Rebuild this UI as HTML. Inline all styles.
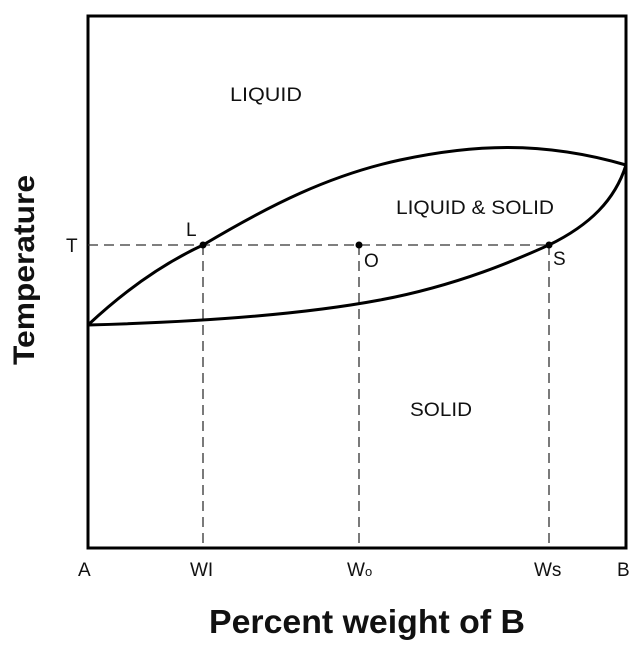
<!DOCTYPE html>
<html><head><style>
html,body{margin:0;padding:0;background:#fff;}
svg{display:block;}
text{font-family:"Liberation Sans",sans-serif;fill:#111;}
</style></head><body>
<svg width="640" height="652" viewBox="0 0 640 652" xmlns="http://www.w3.org/2000/svg">
<rect x="88" y="16" width="538" height="532" fill="none" stroke="#000" stroke-width="3"/>
<g stroke="#333" stroke-width="1.3" stroke-dasharray="10,6" fill="none">
<line x1="88" y1="245" x2="549" y2="245"/>
<line x1="203" y1="245" x2="203" y2="548"/>
<line x1="359" y1="245" x2="359" y2="548"/>
<line x1="549" y1="245" x2="549" y2="548"/>
</g>
<path d="M88,325 C120,295 160,265 203,245 C270,205 330,175 400,160 C470,145 540,140 626,165" fill="none" stroke="#000" stroke-width="3"/>
<path d="M88,325 C200,322 300,315 380,300 C460,285 520,258 549,245 C590,225 615,200 626,165" fill="none" stroke="#000" stroke-width="3"/>
<circle cx="203" cy="245" r="3.5" fill="#000"/>
<circle cx="359" cy="245" r="3.5" fill="#000"/>
<circle cx="549" cy="245" r="3.5" fill="#000"/>
<text x="230" y="101" font-size="19" textLength="72" lengthAdjust="spacingAndGlyphs">LIQUID</text>
<text x="396" y="214" font-size="19" textLength="158" lengthAdjust="spacingAndGlyphs">LIQUID &amp; SOLID</text>
<text x="410" y="416" font-size="19" textLength="62" lengthAdjust="spacingAndGlyphs">SOLID</text>
<text x="186" y="236" font-size="19">L</text>
<text x="364" y="267" font-size="19">O</text>
<text x="553" y="265" font-size="19">S</text>
<text x="66" y="252" font-size="19">T</text>
<text x="78" y="576" font-size="19">A</text>
<text x="190" y="576" font-size="19">WI</text>
<text x="347" y="576" font-size="19">W<tspan font-size="13">o</tspan></text>
<text x="534" y="576" font-size="19">Ws</text>
<text x="617" y="576" font-size="19">B</text>
<text x="367" y="633" font-size="33" font-weight="bold" text-anchor="middle" textLength="316" lengthAdjust="spacingAndGlyphs">Percent weight of B</text>
<text transform="translate(34,270) rotate(-90)" font-size="30" font-weight="bold" text-anchor="middle" textLength="190" lengthAdjust="spacingAndGlyphs">Temperature</text>
</svg>
</body></html>
